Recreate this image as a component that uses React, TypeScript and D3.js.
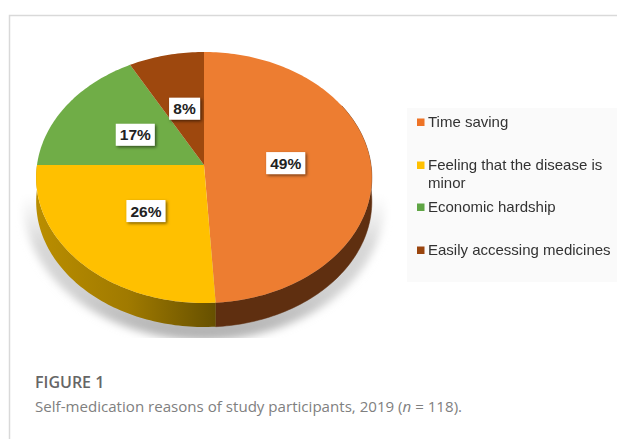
import * as d3 from "d3";

const categories = [
  "Time saving",
  "Feeling that the disease is minor",
  "Economic hardship",
  "Easily accessing medicines",
];
const shares = [49, 26, 17, 8];
const legendLines = [
  ["Time saving"],
  ["Feeling that the disease is", "minor"],
  ["Economic hardship"],
  ["Easily accessing medicines"],
];
const topColors = ["#ed7d31", "#ffc000", "#70ad47", "#9e480e"];
const swatchColors = ["#ee7326", "#ffc000", "#5fa544", "#9a440f"];

const width = 617;
const height = 439;

// the pie is a flat circle seen in perspective, so the apex sits above the middle of the ellipse
const cx = 204;
const cy = 165;
const radiusX = 167;
const radiusY = 124.25;
const tilt = 0.0996;
const depth = 24;

type Pt = [number, number];

function project(angle: number, r = 1): Pt {
  const x = Math.sin(angle) * r;
  const y = -Math.cos(angle) * r;
  const k = 1 - tilt * y;
  return [cx + (radiusX * x) / k, cy + (radiusY * y) / k];
}

function rimPoints(a0: number, a1: number): Pt[] {
  const steps = Math.max(2, Math.ceil((a1 - a0) / 0.02));
  return d3.range(steps + 1).map((i) => project(a0 + ((a1 - a0) * i) / steps));
}

const line = d3.line<Pt>();
const slices = d3.pie<number>().sort(null)(shares);
const rim = rimPoints(0, Math.PI * 2);
const wallStart = Math.PI / 3;
const wallEnd = Math.PI * 1.5;
const legendY = d3.scaleOrdinal<string, number>().domain(categories).range([127, 170, 212, 255]);

export default function App() {
  return (
    <svg
      width={width}
      height={height}
      viewBox={`0 0 ${width} ${height}`}
      style={{ position: "absolute", left: 0, top: 0, background: "#fff" }}
    >
      <defs>
        <filter id="shadowBlur" x="-20%" y="-20%" width="140%" height="140%">
          <feGaussianBlur stdDeviation="4" />
        </filter>
        <filter id="soft" x="-5%" y="-5%" width="110%" height="110%">
          <feGaussianBlur stdDeviation="0.35" />
        </filter>
        <filter id="boxShadow" x="-30%" y="-30%" width="170%" height="170%">
          <feDropShadow dx="1.5" dy="1.5" stdDeviation="1.5" floodColor="#000" floodOpacity="0.55" />
        </filter>
        <linearGradient id="wallYellow" gradientUnits="userSpaceOnUse" x1="40" x2="216" y1="0" y2="0">
          <stop offset="0" stopColor="#b98d00" />
          <stop offset="0.5" stopColor="#a07a00" />
          <stop offset="1" stopColor="#665000" />
        </linearGradient>
        <linearGradient id="shadowFade" gradientUnits="userSpaceOnUse" x1="0" x2="0" y1="172" y2="335">
          <stop offset="0" stopColor="#ffffff" />
          <stop offset="0.3" stopColor="#d8d8d8" />
          <stop offset="0.6" stopColor="#d0d0d0" />
          <stop offset="1" stopColor="#a0a0a0" />
        </linearGradient>
        <clipPath id="shadowClip">
          <rect x="0" y="172" width={width} height="166" />
        </clipPath>
      </defs>

      <path d={`M9.5 ${height}V15.5H${width}`} fill="none" stroke="#d9d9d9" strokeWidth="1.5" />

      <g clipPath="url(#shadowClip)">
        <path
          d={line(rim)! + "Z"}
          transform="translate(0,24)"
          fill="url(#shadowFade)"
          stroke="url(#shadowFade)"
          strokeWidth="26"
          filter="url(#shadowBlur)"
        />
      </g>

      {slices.map((s, i) => {
        const a0 = Math.max(s.startAngle, wallStart);
        const a1 = Math.min(s.endAngle, wallEnd);
        if (a1 <= a0) return null;
        const pts = rimPoints(a0, a1);
        const lower = pts.map(([x, y]): Pt => [x, y + depth]).reverse();
        return (
          <path
            key={categories[i]}
            d={line([...pts, ...lower])! + "Z"}
            fill={i === 0 ? "#5f2f10" : "url(#wallYellow)"}
            stroke={i === 0 ? "#5f2f10" : "none"}
            strokeWidth="0.5"
          />
        );
      })}

      {slices.map((s, i) => (
        <path
          key={categories[i]}
          d={line([project(0, 0), ...rimPoints(s.startAngle, s.endAngle)])! + "Z"}
          fill={topColors[i]}
        />
      ))}

      {slices.map((s, i) => {
        const [x, y] = project((s.startAngle + s.endAngle) / 2, 0.49);
        const w = s.value < 10 ? 31 : 39;
        return (
          <g key={categories[i]} transform={`translate(${x},${y})`}>
            <rect x={-w / 2} y={-11} width={w} height={22} fill="#fff" filter="url(#boxShadow)" />
            <text
              y={5.5}
              textAnchor="middle"
              fontFamily="Liberation Sans"
              fontWeight="700"
              fontSize="15.5"
              fill="#222"
            >
              {s.value}%
            </text>
          </g>
        );
      })}

      <rect x="407" y="108" width="210" height="174" fill="#fafafa" />
      <g filter="url(#soft)" fontFamily="Liberation Sans" fontSize="15" fill="#333">
        {categories.map((c, i) => (
          <g key={c} transform={`translate(417,${legendY(c)})`}>
            <rect x="0" y="-8.5" width="7.5" height="7.5" fill={swatchColors[i]} />
            {legendLines[i].map((t, j) => (
              <text key={t} x="11" y={j * 18}>
                {t}
              </text>
            ))}
          </g>
        ))}
      </g>

      <text x="35" y="388" fontFamily="Open Sans" fontWeight="600" fontSize="16" fill="#666">
        FIGURE 1
      </text>
      <text x="35" y="412" fontFamily="Open Sans" fontSize="15.1" fill="#808080">
        Self-medication reasons of study participants, 2019 (<tspan fontStyle="italic">n</tspan> = 118).
      </text>
    </svg>
  );
}
